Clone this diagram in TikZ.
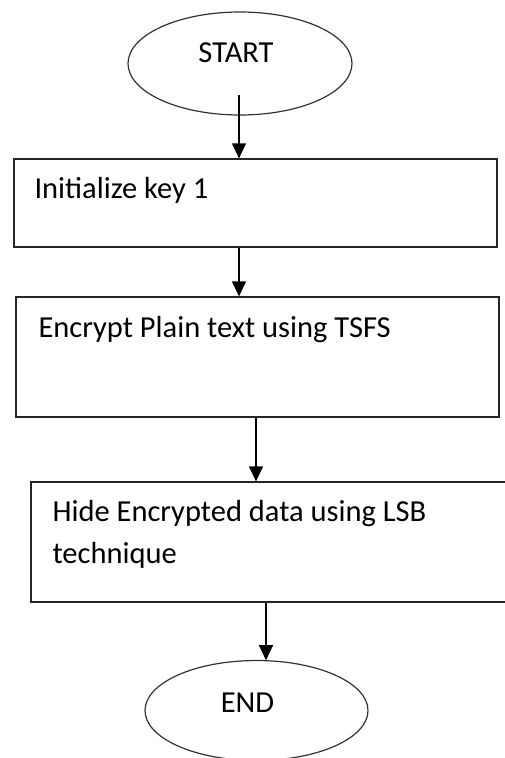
\documentclass[tikz,border=0pt]{standalone}
\usepackage{fontspec}
\setmainfont{Carlito}
\usetikzlibrary{shapes.geometric,arrows.meta,calc}
\tikzset{
  flowbox/.style={draw=black!85, line width=1.3pt, rectangle, inner sep=0pt},
  term/.style={draw=black!80, line width=1.2pt, ellipse, inner sep=0pt},
  lbl/.style={inner sep=0pt, anchor=base west, font=\fontsize{30.5}{42}\selectfont, align=left},
  tlbl/.style={inner sep=0pt, anchor=base, font=\fontsize{30.5}{42}\selectfont},
  arr/.style={draw=black, line width=1.3pt, -{Triangle[length=15pt,width=14pt]}}
}
\begin{document}
\begin{tikzpicture}[x=1pt,y=-1pt]
\clip (0,0) rectangle (505,758);
\fill[white] (0,0) rectangle (505,758);
% terminals
\node[term, minimum width=224pt, minimum height=103pt] (start) at (240,63.5) {};
\node[tlbl] (starttxt) at (236,62) {START};
\node[term, minimum width=223pt, minimum height=100pt] (endn) at (256.5,710.5) {};
\node[tlbl] (endtxt) at (247.5,712) {END};
% boxes
\node[flowbox, minimum width=483pt, minimum height=88pt] (box1) at (255.5,203) {};
\node[flowbox, minimum width=483pt, minimum height=120pt] (box2) at (257.5,357) {};
\node[flowbox, minimum width=483pt, minimum height=120pt] (box3) at (272.5,542) {};
% texts
\node[lbl] (t1) at ($(box1.north west)+(21,40)$) {Initialize key 1};
\node[lbl] (t2) at ($(box2.north west)+(23,41)$) {Encrypt Plain text using TSFS};
\node[lbl] (t3) at ($(box3.north west)+(22,82)$) {Hide Encrypted data using LSB\\technique};
% arrow columns
\coordinate (a1) at (239,95);
\coordinate (a3x) at (256,0);
\coordinate (a4x) at (266,0);
\draw[arr] (a1) -- (a1 |- box1.north);
\draw[arr] (box1.south -| a1) -- (box2.north -| a1);
\draw[arr] (box2.south -| a3x) -- (box3.north -| a3x);
\draw[arr] (box3.south -| a4x) -- ($(endn.north -| a4x)+(0,0.3)$);
\end{tikzpicture}
\end{document}
